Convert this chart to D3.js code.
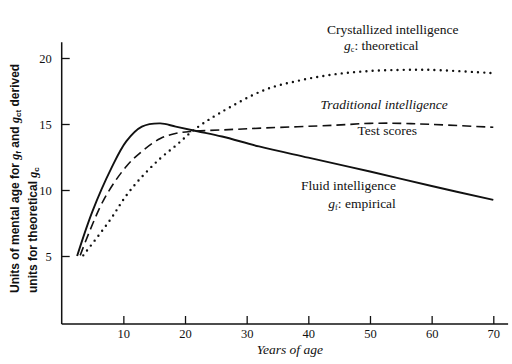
<!DOCTYPE html>
<html>
<head>
<meta charset="utf-8">
<script src="https://cdn.jsdelivr.net/npm/d3@7"></script>
<style>
  body { margin: 0; background: #fff; }
  .axis text { font-family: "Liberation Serif", "Times New Roman", "DejaVu Serif", serif; font-size: 12.5px; fill: #111; }
  .axis line { stroke: #111; stroke-width: 1.3; }
  .lbl { font-family: "Liberation Serif", "Times New Roman", "DejaVu Serif", serif; font-size: 13.5px; fill: #111; }
  .ylab { font-family: "Liberation Sans", Arial, sans-serif; font-size: 12px; font-weight: bold; fill: #111; }
  .gi { font-family: "Liberation Serif", "Times New Roman", "DejaVu Serif", serif; font-style: italic; }
</style>
</head>
<body>
<div class="chart"></div>
<script>
// data (age in years, units of mental age)
var fluidAges = [2.5, 5, 8, 10.5, 13, 16, 18.5, 22, 26, 32, 40, 50, 60, 70];
var fluidVals = [5, 8.4, 11.6, 13.7, 14.8, 15.05, 14.8, 14.45, 14.05, 13.3, 12.45, 11.4, 10.3, 9.25];

var tradAges = [3, 6.75, 10.5, 13.2, 16, 18.6, 21.3, 26, 33, 44, 50, 55, 60, 70];
var tradVals = [5.05, 9.2, 11.8, 13.0, 13.9, 14.3, 14.45, 14.55, 14.7, 14.9, 15.05, 15.05, 14.97, 14.75];

var crysAges = [3.5, 7.8, 10.5, 13.2, 16, 18.6, 21.3, 25.7, 33, 38.6, 44, 49.4, 55, 60, 70];
var crysVals = [5.05, 7.7, 9.6, 11.1, 12.4, 13.4, 14.5, 15.85, 17.6, 18.3, 18.75, 19.0, 19.1, 19.1, 18.85];

var xTicks = [10, 20, 30, 40, 50, 60, 70];
var yTicks = [5, 10, 15, 20];

var svgWidth = 512;
var svgHeight = 364;

var svg = d3.select(".chart")
    .append("svg")
    .attr("width", svgWidth)
    .attr("height", svgHeight);

var x = d3.scaleLinear().domain([0, 70]).range([61.7, 493.3]);
var y = d3.scaleLinear().domain([0, 20]).range([322, 58]);

// x axis, ticks pointing up
var xAxis = svg.append("g")
    .attr("class", "axis")
    .attr("transform", "translate(0," + (y(0) + 2) + ")")
    .call(d3.axisBottom(x).tickValues(xTicks).tickSize(-8).tickPadding(5));
xAxis.select(".domain").remove();

// y axis, ticks pointing right
var yAxis = svg.append("g")
    .attr("class", "axis")
    .attr("transform", "translate(" + x(0) + ",0)")
    .call(d3.axisLeft(y).tickValues(yTicks).tickSize(-8).tickPadding(10));
yAxis.select(".domain").remove();

// axis lines run past the data range
svg.append("line")
    .attr("x1", x(0)).attr("x2", x(72.4))
    .attr("y1", y(0) + 2).attr("y2", y(0) + 2)
    .attr("stroke", "#111").attr("stroke-width", 1.5);
svg.append("line")
    .attr("x1", x(0)).attr("x2", x(0))
    .attr("y1", y(0) + 2).attr("y2", y(21.2))
    .attr("stroke", "#111").attr("stroke-width", 1.5);

var line = d3.line()
    .x(function(d) { return x(d[0]); })
    .y(function(d) { return y(d[1]); })
    .curve(d3.curveCatmullRom);

function pairs(a, b) {
    return a.map(function(v, i) { return [v, b[i]]; });
}

// crystallized: dotted
svg.append("path")
    .datum(pairs(crysAges, crysVals))
    .attr("d", line)
    .attr("fill", "none")
    .attr("stroke", "#111")
    .attr("stroke-width", 2.4)
    .attr("stroke-linecap", "round")
    .attr("stroke-dasharray", "0 6.2");

// traditional: dashed
svg.append("path")
    .datum(pairs(tradAges, tradVals))
    .attr("d", line)
    .attr("fill", "none")
    .attr("stroke", "#111")
    .attr("stroke-width", 1.6)
    .attr("stroke-dasharray", "9 5");

// fluid: solid
svg.append("path")
    .datum(pairs(fluidAges, fluidVals))
    .attr("d", line)
    .attr("fill", "none")
    .attr("stroke", "#111")
    .attr("stroke-width", 1.9);

// curve labels
function gLabel(sel, sub) {
    sel.append("tspan").attr("class", "gi").text("g");
    sel.append("tspan").attr("font-size", "8px").attr("dy", 2).text(sub);
    sel.append("tspan").attr("dy", -2).text(": ");
}

svg.append("text").attr("class", "lbl")
    .attr("x", x(53.7)).attr("y", y(21.8))
    .attr("text-anchor", "middle")
    .text("Crystallized intelligence");
var gc = svg.append("text").attr("class", "lbl")
    .attr("x", x(45.8)).attr("y", y(20.6));
gLabel(gc, "c");
gc.append("tspan").text("theoretical");

svg.append("text").attr("class", "lbl")
    .attr("x", x(52.3)).attr("y", y(16.1))
    .attr("text-anchor", "middle")
    .attr("font-style", "italic")
    .text("Traditional intelligence");
svg.append("text").attr("class", "lbl")
    .attr("x", x(52.8)).attr("y", y(14.2))
    .attr("text-anchor", "middle")
    .text("Test scores");

svg.append("text").attr("class", "lbl")
    .attr("x", x(54.2)).attr("y", y(10.0))
    .attr("text-anchor", "end")
    .text("Fluid intelligence");
var gf = svg.append("text").attr("class", "lbl")
    .attr("x", x(54.2)).attr("y", y(8.6))
    .attr("text-anchor", "end");
gLabel(gf, "f");
gf.append("tspan").text("empirical");

// x axis title
svg.append("text")
    .attr("class", "lbl")
    .attr("x", x(37)).attr("y", 354)
    .attr("text-anchor", "middle")
    .attr("font-style", "italic")
    .text("Years of age");

// y axis title, two lines
var yl1 = svg.append("text").attr("class", "ylab")
    .attr("transform", "translate(19,293) rotate(-90)");
yl1.append("tspan").text("Units of mental age for ");
yl1.append("tspan").attr("class", "gi").text("g");
yl1.append("tspan").attr("font-size", "8px").attr("dy", 2).text("f");
yl1.append("tspan").attr("dy", -2).text(" and ");
yl1.append("tspan").attr("class", "gi").text("g");
yl1.append("tspan").attr("font-size", "8px").attr("dy", 2).text("ct");
yl1.append("tspan").attr("dy", -2).text(" derived");

var yl2 = svg.append("text").attr("class", "ylab")
    .attr("transform", "translate(37,293) rotate(-90)");
yl2.append("tspan").text("units for theoretical ");
yl2.append("tspan").attr("class", "gi").text("g");
yl2.append("tspan").attr("font-size", "8px").attr("dy", 2).text("c");
</script>
</body>
</html>
